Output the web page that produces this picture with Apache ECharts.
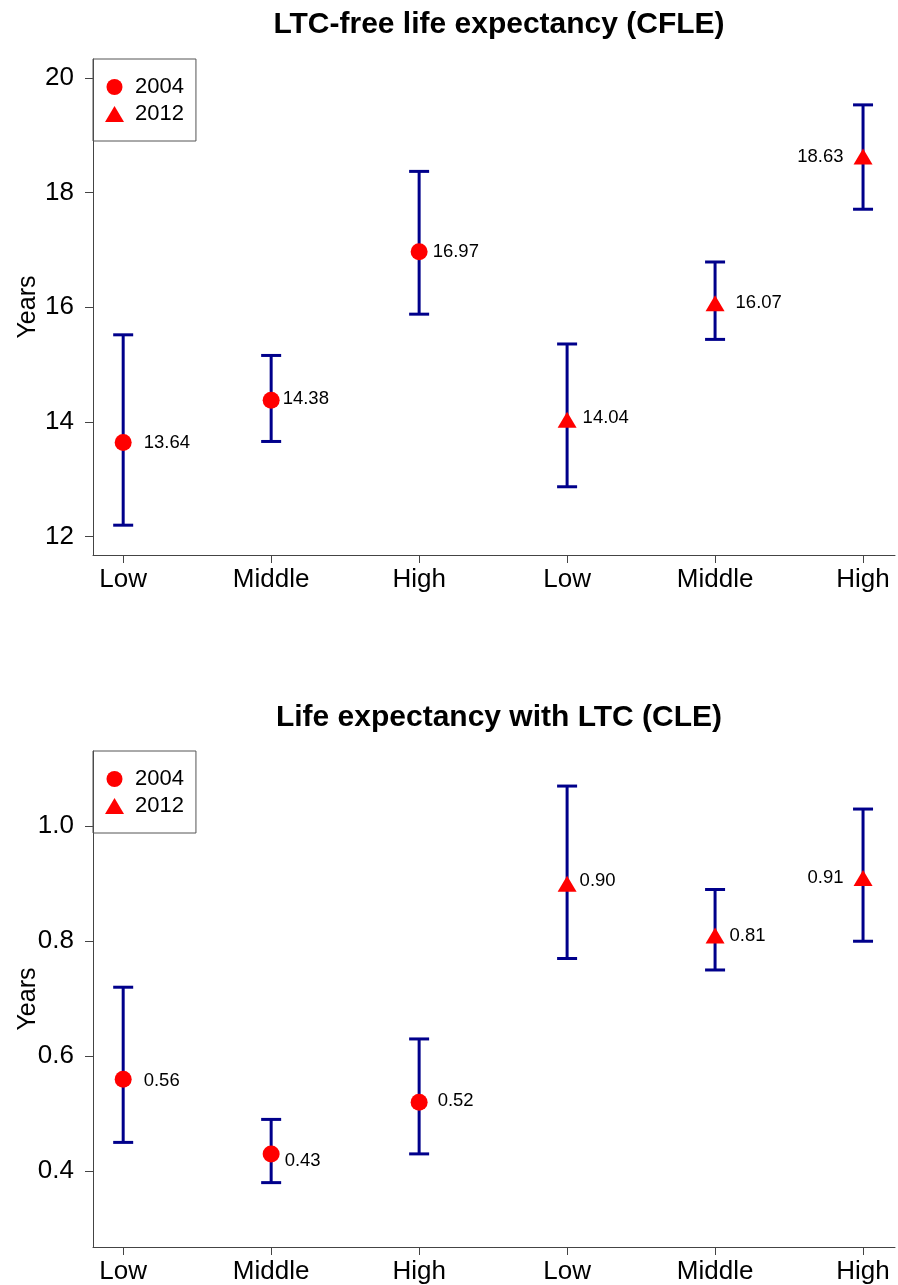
<!DOCTYPE html>
<html>
<head>
<meta charset="utf-8">
<script src="https://cdn.jsdelivr.net/npm/echarts@6/dist/echarts.min.js"></script>
<style>
  html, body { margin: 0; padding: 0; background: #fff; }
  #main { width: 898px; height: 1285px; }
</style>
</head>
<body>
<div id="main"></div>
<script>
// 横轴分类（前三个 2004，后三个 2012）
var categories = ['Low', 'Middle', 'High', 'Low', 'Middle', 'High'];
var seriesNames = ['2004', '2012'];

// 上图 CFLE
var cfle2004 = [13.64, 14.38, 16.97];
var cfle2012 = [14.04, 16.07, 18.63];
var cfleLower = [12.20, 13.66, 15.88, 12.87, 15.44, 17.71];
var cfleUpper = [15.52, 15.16, 18.37, 15.36, 16.79, 19.53];
var cfleTicks = [12, 14, 16, 18, 20];

// 下图 CLE
var cle2004 = [0.56, 0.43, 0.52];
var cle2012 = [0.90, 0.81, 0.91];
var cleLower = [0.45, 0.38, 0.43, 0.77, 0.75, 0.80];
var cleUpper = [0.72, 0.49, 0.63, 1.07, 0.89, 1.03];
var cleTicks = [0.4, 0.6, 0.8, 1.0];

(function () {
  var myChart = echarts.init(document.getElementById('main'));
  var font = 'Liberation Sans, Arial, sans-serif';
  var barColor = '#00008B';
  var pointColor = '#ff0000';
  var axisColor = '#444';
  var xPos = categories.map(function (c, i) { return i + 1; });

  // 标签离点的距离（正数在右边，负数在左边）和上下偏移
  var cfleGap = [12, 3, 5, 6, 11, -10];
  var cfleDy = [0, -1, 0, -2, 0, 0];
  var cleGap = [12, 5, 10, 3, 5, -10];
  var cleDy = [2, 7, -1, -3, 0, 0];

  function pointData(values, offset, gaps, dys) {
    return values.map(function (v, i) {
      var g = gaps[i + offset];
      return {
        value: [xPos[i + offset], v],
        label: { position: g < 0 ? 'left' : 'right', distance: Math.abs(g), offset: [0, dys[i + offset]] }
      };
    });
  }

  function barData(lower, upper) {
    return lower.map(function (l, i) { return [xPos[i], l, upper[i]]; });
  }

  // 误差线：竖线 + 上下横帽
  function renderBar(params, api) {
    var x = api.value(0);
    var lo = api.coord([x, api.value(1)]);
    var hi = api.coord([x, api.value(2)]);
    var cap = 10;
    var style = { stroke: barColor, lineWidth: 3 };
    return {
      type: 'group',
      children: [
        { type: 'line', shape: { x1: lo[0], y1: lo[1], x2: hi[0], y2: hi[1] }, style: style },
        { type: 'line', shape: { x1: lo[0] - cap, y1: lo[1], x2: lo[0] + cap, y2: lo[1] }, style: style },
        { type: 'line', shape: { x1: hi[0] - cap, y1: hi[1], x2: hi[0] + cap, y2: hi[1] }, style: style }
      ]
    };
  }

  function xAxis(idx) {
    return {
      type: 'value', gridIndex: idx, min: 0.796, max: 6.216,
      splitLine: { show: false },
      axisLine: { show: true, onZero: false, lineStyle: { color: axisColor, width: 1 } },
      axisTick: { show: true, length: 8, customValues: xPos, lineStyle: { color: axisColor } },
      axisLabel: {
        customValues: xPos, color: '#000', fontSize: 26, fontFamily: font, margin: 12,
        formatter: function (v) { return categories[Math.round(v) - 1]; }
      }
    };
  }

  function yAxis(idx, min, max, ticks, digits) {
    return {
      type: 'value', gridIndex: idx, min: min, max: max,
      name: 'Years', nameLocation: 'middle', nameGap: 52, nameRotate: 90,
      nameMoveOverlap: false,
      nameTextStyle: { color: '#000', fontSize: 25, fontFamily: font },
      splitLine: { show: false },
      axisLine: { show: true, lineStyle: { color: axisColor, width: 1 } },
      axisTick: { show: true, length: 8, customValues: ticks, lineStyle: { color: axisColor } },
      axisLabel: {
        customValues: ticks, color: '#000', fontSize: 26, fontFamily: font, margin: 19,
        formatter: function (v) { return v.toFixed(digits); }
      }
    };
  }

  function legend(top) {
    return {
      data: [{ name: '2004', icon: 'circle' }, { name: '2012', icon: 'triangle' }],
      orient: 'vertical', left: 93, top: top,
      itemWidth: 19, itemHeight: 16, itemGap: 5,
      padding: [17, 12, 16, 12],
      borderColor: '#555', borderWidth: 1,
      selectedMode: false,
      textStyle: { color: '#000', fontSize: 22, fontFamily: font, lineHeight: 22, padding: [0, 0, 0, 6] }
    };
  }

  function scatter(name, symbol, size, idx, data) {
    return {
      name: name, type: 'scatter', xAxisIndex: idx, yAxisIndex: idx,
      symbol: symbol, symbolSize: size, z: 5,
      itemStyle: { color: pointColor, opacity: 1 },
      label: {
        show: true, color: '#000', fontSize: 18.5, fontFamily: font,
        formatter: function (p) { return p.value[1].toFixed(2); }
      },
      data: data
    };
  }

  function bars(idx, data) {
    return {
      type: 'custom', xAxisIndex: idx, yAxisIndex: idx, z: 2,
      renderItem: renderBar, encode: { x: 0, y: [1, 2] },
      data: data
    };
  }

  var option = {
    animation: false,
    textStyle: { fontFamily: font },
    title: [{
      text: 'LTC-free life expectancy (CFLE)', left: 494, top: 5, textAlign: 'center',
      textStyle: { color: '#000', fontSize: 30, fontWeight: 'bold', fontFamily: font }
    }, {
      text: 'Life expectancy with LTC (CLE)', left: 494, top: 698, textAlign: 'center',
      textStyle: { color: '#000', fontSize: 30, fontWeight: 'bold', fontFamily: font }
    }],
    legend: [legend(59), legend(751)],
    grid: [
      { left: 93, top: 59, width: 802, height: 496, containLabel: false, outerBoundsMode: 'none' },
      { left: 93, top: 751, width: 802, height: 496, containLabel: false, outerBoundsMode: 'none' }
    ],
    xAxis: [xAxis(0), xAxis(1)],
    yAxis: [
      yAxis(0, 11.68, 20.33, cfleTicks, 0),
      yAxis(1, 0.268, 1.131, cleTicks, 1)
    ],
    series: [
      bars(0, barData(cfleLower, cfleUpper)),
      scatter(seriesNames[0], 'circle', 17, 0, pointData(cfle2004, 0, cfleGap, cfleDy)),
      scatter(seriesNames[1], 'triangle', [19, 16], 0, pointData(cfle2012, 3, cfleGap, cfleDy)),
      bars(1, barData(cleLower, cleUpper)),
      scatter(seriesNames[0], 'circle', 17, 1, pointData(cle2004, 0, cleGap, cleDy)),
      scatter(seriesNames[1], 'triangle', [19, 16], 1, pointData(cle2012, 3, cleGap, cleDy))
    ]
  };
  myChart.setOption(option);
})();
</script>
</body>
</html>
